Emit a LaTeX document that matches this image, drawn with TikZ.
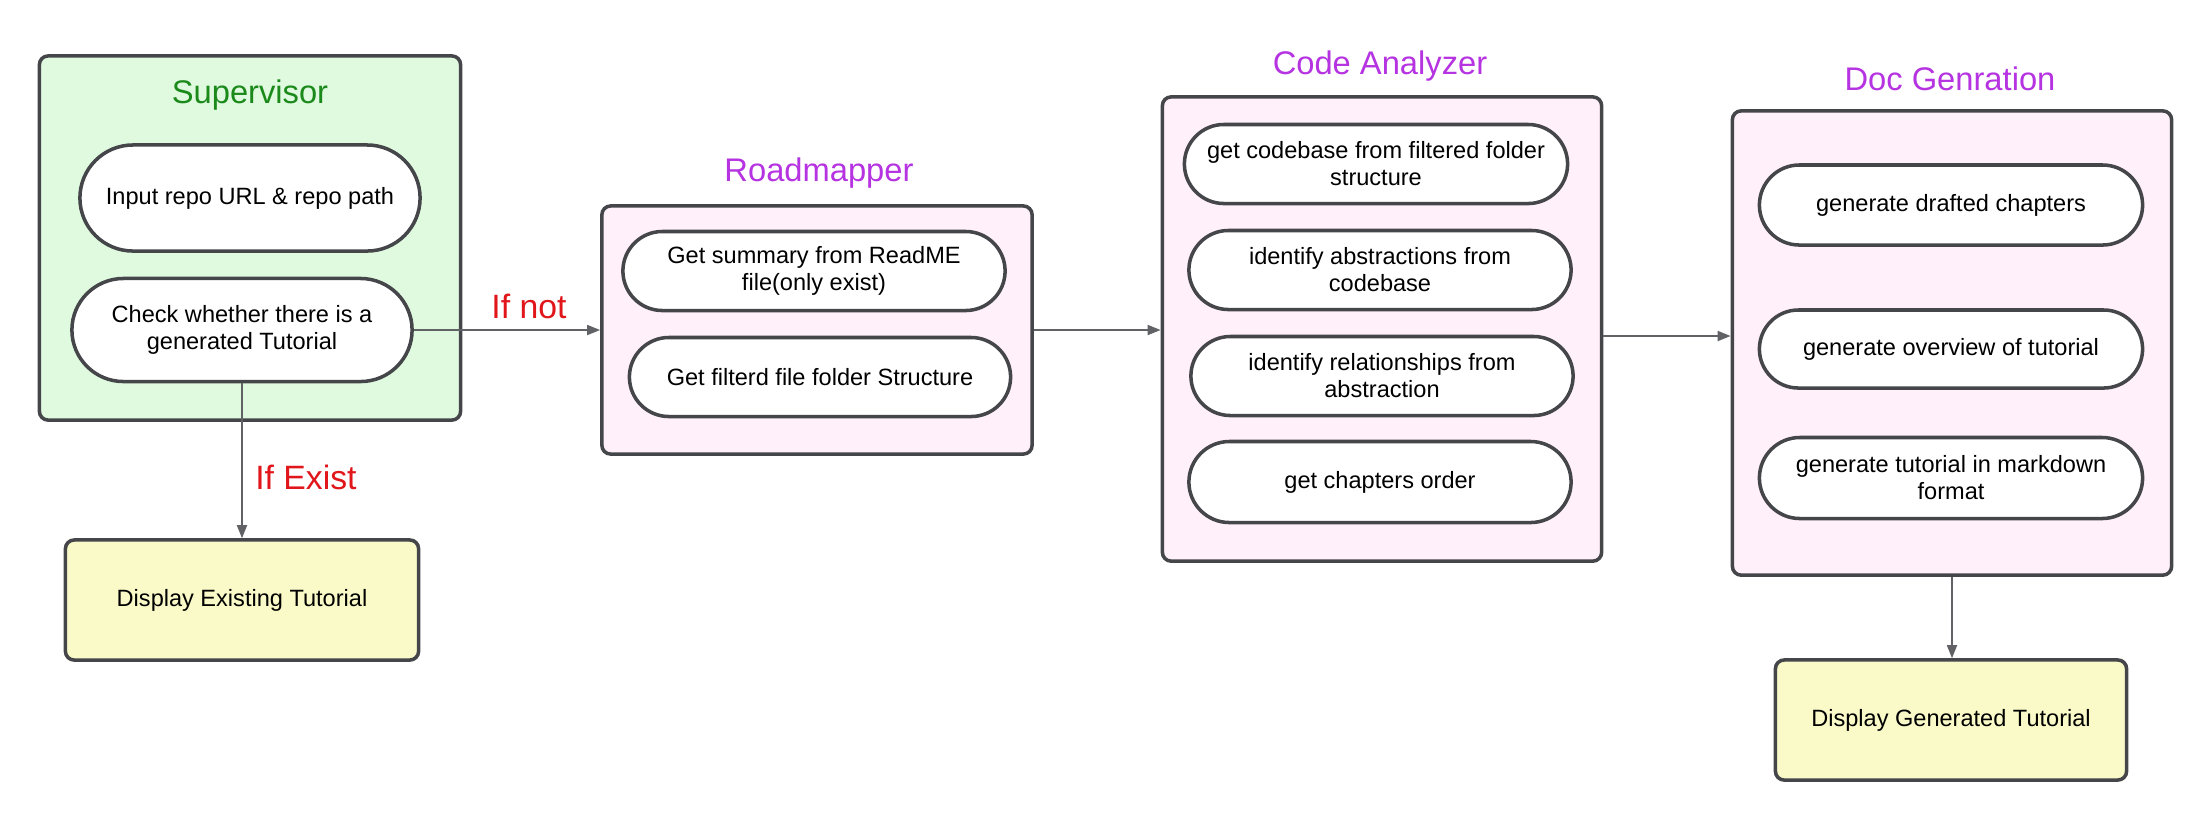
\documentclass[tikz,border=0pt]{standalone}
\usepackage{fontspec}
\setmainfont{Liberation Sans}
\usetikzlibrary{shapes.misc,arrows.meta,positioning}
\definecolor{boxline}{HTML}{45464A}
\definecolor{supfill}{HTML}{E0FAE0}
\definecolor{supgreen}{HTML}{1B8A1B}
\definecolor{agentfill}{HTML}{FFF0FA}
\definecolor{agentpurple}{HTML}{B533E0}
\definecolor{outfill}{HTML}{FAFAC8}
\definecolor{condred}{HTML}{E0161B}

\begin{document}
\begin{tikzpicture}[x=0.01cm, y=-0.01cm,
    group/.style={draw=boxline, line width=1pt, rounded corners=2.5pt, inner sep=0pt},
    task/.style={rounded rectangle, draw=boxline, line width=1pt, fill=white, align=center, font=\fontsize{6.7}{7.7}\selectfont, inner sep=0pt},
    output/.style={draw=boxline, line width=1pt, rounded corners=2.5pt, fill=outfill, font=\fontsize{6.7}{7.7}\selectfont, inner sep=0pt},
    title/.style={font=\fontsize{9.3}{11}\selectfont},
    cond/.style={font=\fontsize{9.6}{11}\selectfont, text=condred},
    flow/.style={draw=boxline!85, line width=0.5pt, -{Triangle[length=0.13cm, width=0.1cm]}},
]
\useasboundingbox (0,0) rectangle (2211,820);

% Supervisor
\node[group, fill=supfill, minimum width=4.21cm, minimum height=3.64cm] (sup) at (250,238) {};
\node[title, text=supgreen] (suptitle) at (250,95) {Supervisor};
\node[task, minimum width=3.40cm, minimum height=1.06cm] (input) at (250,198) {Input repo URL \& repo path};
\node[task, minimum width=3.40cm, minimum height=1.03cm] (check) at (242,330) {Check whether there is a\\generated Tutorial};
\node[output, minimum width=3.53cm, minimum height=1.20cm] (exist) at (242,600) {Display Existing Tutorial};

% Roadmapper
\node[group, fill=agentfill, minimum width=4.30cm, minimum height=2.48cm] (road) at (817,330) {};
\node[title, text=agentpurple] (roadtitle) at (819,173) {Roadmapper};
\node[task, minimum width=3.82cm, minimum height=0.79cm] (readme) at (814,271) {Get summary from ReadME\\file(only exist)};
\node[task, minimum width=3.81cm, minimum height=0.79cm] (folder) at (820,377) {Get filterd file folder Structure};

% Code Analyzer
\node[group, fill=agentfill, minimum width=4.39cm, minimum height=4.64cm] (code) at (1382,329) {};
\node[title, text=agentpurple] (codetitle) at (1380,66) {Code Analyzer};
\node[task, minimum width=3.83cm, minimum height=0.79cm] (codebase) at (1376,164) {get codebase from filtered folder\\structure};
\node[task, minimum width=3.82cm, minimum height=0.79cm] (abstr) at (1380,270) {identify abstractions from\\codebase};
\node[task, minimum width=3.82cm, minimum height=0.79cm] (relat) at (1382,376) {identify relationships from\\abstraction};
\node[task, minimum width=3.82cm, minimum height=0.81cm] (order) at (1380,482) {get chapters order};

% Doc Genration
\node[group, fill=agentfill, minimum width=4.39cm, minimum height=4.64cm] (doc) at (1952,343) {};
\node[title, text=agentpurple] (doctitle) at (1950,79) {Doc Genration};
\node[task, minimum width=3.83cm, minimum height=0.80cm] (draft) at (1951,205) {generate drafted chapters};
\node[task, minimum width=3.83cm, minimum height=0.78cm] (overview) at (1951,349) {generate overview of tutorial};
\node[task, minimum width=3.83cm, minimum height=0.81cm] (markdown) at (1951,478) {generate tutorial in markdown\\format};
\node[output, minimum width=3.51cm, minimum height=1.20cm] (gen) at (1951,720) {Display Generated Tutorial};

% Connectors
\draw[flow] (check.east) -- (check.east -| road.west);
\draw[flow] (check.south) -- (exist.north);
\draw[flow] (road.east) -- (road.east -| code.west);
\draw[flow] ([yshift=-0.07cm]code.east) -- ([yshift=-0.07cm]code.east -| doc.west);
\draw[flow] (doc.south) -- (doc.south |- gen.north);

% Conditions
\node[cond] (ifnot) at (529,306) {If not};
\node[cond] (ifexist) at (306,477) {If Exist};

\end{tikzpicture}
\end{document}
